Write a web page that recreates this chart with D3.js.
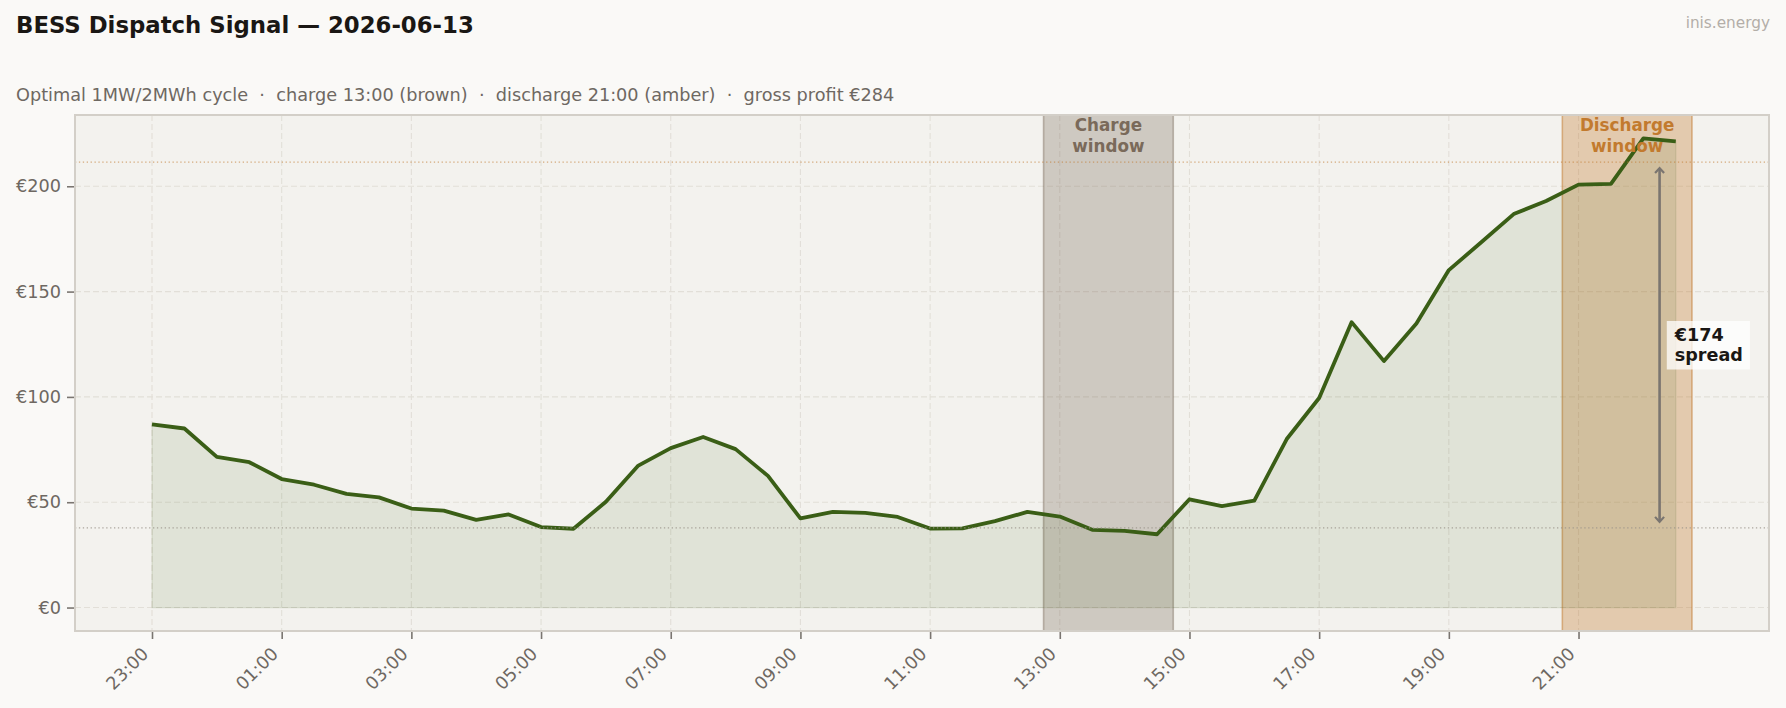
<!DOCTYPE html>
<html>
<head>
<meta charset="utf-8">
<script src="https://cdn.jsdelivr.net/npm/d3@7"></script>
<style>
  body { margin: 0; background: #faf9f7; }
  svg { display: block; font-family: "DejaVu Sans", sans-serif; }
</style>
</head>
<body>
<svg id="chart" width="1786" height="708"></svg>
<script>
// half-hourly day-ahead prices, €/MWh
const slots = ["23:00","23:30","00:00","00:30","01:00","01:30","02:00","02:30",
  "03:00","03:30","04:00","04:30","05:00","05:30","06:00","06:30",
  "07:00","07:30","08:00","08:30","09:00","09:30","10:00","10:30",
  "11:00","11:30","12:00","12:30","13:00","13:30","14:00","14:30",
  "15:00","15:30","16:00","16:30","17:00","17:30","18:00","18:30",
  "19:00","19:30","20:00","20:30","21:00","21:30","22:00","22:30"];
const prices = [87, 85, 71.5, 69, 61, 58.3, 54, 52.3,
  47, 46, 41.6, 44.2, 38.2, 37.4, 50.2, 67.4,
  75.7, 81, 75.2, 62.5, 42.3, 45.4, 44.9, 43,
  37.5, 37.6, 41, 45.4, 43.2, 36.9, 36.4, 34.8,
  51.4, 48.2, 50.8, 80, 99.5, 135.5, 117, 134.8,
  160.2, 173.4, 186.8, 193, 200.8, 201.1, 222.7, 221.3];

const chargeWindow = ["12:45", "14:45"];
const dischargeWindow = ["20:45", "22:45"];
const chargeSlots = ["13:00", "13:30", "14:00", "14:30"];
const dischargeSlots = ["21:00", "21:30", "22:00", "22:30"];

const xTickLabels = ["23:00","01:00","03:00","05:00","07:00","09:00",
  "11:00","13:00","15:00","17:00","19:00","21:00"];
const yTicks = [0, 50, 100, 150, 200];

const title = "BESS Dispatch Signal \u2014 2026-06-13";
const subtitle = "Optimal 1MW/2MWh cycle  \u00b7  charge 13:00 (brown)  \u00b7  discharge 21:00 (amber)  \u00b7  gross profit \u20ac284";
const watermark = "inis.energy";

// colours
const LINE = "#3a5e16";
const CHARGE = "#7a6a5a";
const AMBER = "#c27a2e";
const INK = "#6e6862";

// hours since 23:00 of the previous day
function hrs(t) {
  const [h, m] = t.split(":").map(Number);
  return ((h - 23 + 24) % 24) + m / 60;
}

const data = slots.map((s, i) => ({ t: hrs(s), v: prices[i] }));
const priceAt = s => prices[slots.indexOf(s)];
const chargeAvg = d3.mean(chargeSlots, priceAt);
const dischargeAvg = d3.mean(dischargeSlots, priceAt);
const spread = dischargeAvg - chargeAvg;

const box = { left: 75, right: 1769, top: 115, bottom: 631 };

const xLo = 0, xHi = Math.max(d3.max(data, d => d.t), hrs(dischargeWindow[1]));
const xPad = (xHi - xLo) * 0.05;
const x = d3.scaleLinear().domain([xLo - xPad, xHi + xPad]).range([box.left, box.right]);

const yHi = d3.max(prices), yPad = yHi * 0.05;
const y = d3.scaleLinear().domain([-yPad, yHi + yPad]).range([box.bottom, box.top]);

const svg = d3.select("#chart");
svg.append("rect").attr("width", 1786).attr("height", 708).attr("fill", "#faf9f7");

// titles
svg.append("text").attr("x", 16).attr("y", 33)
  .attr("font-size", 22.8).attr("font-weight", "bold").attr("fill", "#1a1714")
  .text(title);
svg.append("text").attr("x", 16).attr("y", 101)
  .attr("font-size", 17.7).attr("fill", INK).style("white-space", "pre")
  .text(subtitle);
svg.append("text").attr("x", 1770).attr("y", 27.5)
  .attr("text-anchor", "end").attr("font-size", 15.3).attr("fill", "#b3aea8")
  .text(watermark);

// axes background
svg.append("rect")
  .attr("x", box.left).attr("y", box.top)
  .attr("width", box.right - box.left).attr("height", box.bottom - box.top)
  .attr("fill", "#f3f2ee");

const plot = svg.append("g");

// grid
const xTickVals = xTickLabels.map(hrs);
plot.append("g").selectAll("line").data(xTickVals).join("line")
  .attr("x1", d => x(d)).attr("x2", d => x(d))
  .attr("y1", box.top).attr("y2", box.bottom)
  .attr("stroke", "#e2dfd8").attr("stroke-width", 1.1).attr("stroke-dasharray", "6,3");
plot.append("g").selectAll("line").data(yTicks).join("line")
  .attr("x1", box.left).attr("x2", box.right)
  .attr("y1", d => y(d)).attr("y2", d => y(d))
  .attr("stroke", "#e2dfd8").attr("stroke-width", 1.1).attr("stroke-dasharray", "6,3");

// charge / discharge windows
function span(win, color, fillOp, edgeOp) {
  plot.append("rect")
    .attr("x", x(hrs(win[0]))).attr("y", box.top)
    .attr("width", x(hrs(win[1])) - x(hrs(win[0])))
    .attr("height", box.bottom - box.top)
    .attr("fill", color).attr("fill-opacity", fillOp)
    .attr("stroke", color).attr("stroke-opacity", edgeOp).attr("stroke-width", 1.6);
}
span(chargeWindow, CHARGE, 0.3, 0.45);
span(dischargeWindow, AMBER, 0.33, 0.5);

// price area + line
const area = d3.area().x(d => x(d.t)).y0(y(0)).y1(d => y(d.v));
plot.append("path").datum(data).attr("d", area)
  .attr("fill", LINE).attr("fill-opacity", 0.1)
  .attr("stroke", LINE).attr("stroke-opacity", 0.12).attr("stroke-width", 1.2);

const line = d3.line().x(d => x(d.t)).y(d => y(d.v));
plot.append("path").datum(data).attr("d", line)
  .attr("fill", "none").attr("stroke", LINE).attr("stroke-width", 3.8)
  .attr("stroke-linejoin", "round");

// average price reference lines
plot.append("line")
  .attr("x1", box.left).attr("x2", box.right)
  .attr("y1", y(dischargeAvg)).attr("y2", y(dischargeAvg))
  .attr("stroke", AMBER).attr("stroke-opacity", 0.6).attr("stroke-width", 1.3)
  .attr("stroke-dasharray", "1.3,2.6");
plot.append("line")
  .attr("x1", box.left).attr("x2", box.right)
  .attr("y1", y(chargeAvg)).attr("y2", y(chargeAvg))
  .attr("stroke", "#9a928a").attr("stroke-opacity", 0.8).attr("stroke-width", 1.3)
  .attr("stroke-dasharray", "1.3,2.6");

// window labels
function windowLabel(win, word, color) {
  const cx = (x(hrs(win[0])) + x(hrs(win[1]))) / 2;
  const t = plot.append("text").attr("text-anchor", "middle")
    .attr("font-size", 16.8).attr("font-weight", "bold").attr("fill", color);
  t.append("tspan").attr("x", cx).attr("y", box.top + 16).text(word);
  t.append("tspan").attr("x", cx).attr("y", box.top + 36.5).text("window");
}
windowLabel(chargeWindow, "Charge", CHARGE);
windowLabel(dischargeWindow, "Discharge", AMBER);

// spread arrow
const defs = svg.append("defs");
defs.append("marker").attr("id", "head").attr("viewBox", "-6 -6 12 12")
  .attr("refX", 0).attr("refY", 0).attr("markerWidth", 12).attr("markerHeight", 12)
  .attr("markerUnits", "userSpaceOnUse").attr("orient", "auto-start-reverse")
  .append("path").attr("d", "M-5,-4.5 L0,0 L-5,4.5")
  .attr("fill", "none").attr("stroke", "#7a7570").attr("stroke-width", 2.2);

const ax = x(hrs("22:15"));
plot.append("line")
  .attr("x1", ax).attr("x2", ax)
  .attr("y1", y(dischargeAvg) + 6).attr("y2", y(chargeAvg) - 6)
  .attr("stroke", "#7a7570").attr("stroke-width", 2.6)
  .attr("marker-start", "url(#head)").attr("marker-end", "url(#head)");

const midY = y((dischargeAvg + chargeAvg) / 2);
const lbl = plot.append("g");
const bg = lbl.append("rect").attr("fill", "#ffffff").attr("fill-opacity", 0.75);
const st = lbl.append("text").attr("font-size", 17.6).attr("font-weight", "bold").attr("fill", "#1a1714");
const tx = x(hrs("22:30")) - 1;
st.append("tspan").attr("x", tx).attr("y", midY - 4).text("\u20ac" + Math.round(spread));
st.append("tspan").attr("x", tx).attr("y", midY + 16.5).text("spread");
const bb = st.node().getBBox();
bg.attr("x", bb.x - 7).attr("y", bb.y - 4).attr("width", bb.width + 14).attr("height", bb.height + 8);

// frame
svg.append("rect")
  .attr("x", box.left).attr("y", box.top)
  .attr("width", box.right - box.left).attr("height", box.bottom - box.top)
  .attr("fill", "none").attr("stroke", "#d3cfc8").attr("stroke-width", 2);

// y axis
const yAxis = svg.append("g").attr("transform", `translate(${box.left - 1},0)`)
  .call(d3.axisLeft(y).tickValues(yTicks).tickSize(7).tickPadding(6)
    .tickFormat(d => "\u20ac" + d));
yAxis.select(".domain").remove();
yAxis.selectAll(".tick line").attr("stroke", "#7a7570").attr("stroke-width", 1.6);
yAxis.selectAll(".tick text").attr("font-family", "DejaVu Sans")
  .attr("font-size", 17.7).attr("fill", INK);

// x axis
const xAxis = svg.append("g").attr("transform", `translate(0,${box.bottom + 1})`)
  .call(d3.axisBottom(x).tickValues(xTickVals).tickSize(7)
    .tickFormat((d, i) => xTickLabels[i]));
xAxis.select(".domain").remove();
xAxis.selectAll(".tick line").attr("stroke", "#7a7570").attr("stroke-width", 1.6);
xAxis.selectAll(".tick text")
  .attr("font-family", "DejaVu Sans").attr("font-size", 17.7).attr("fill", INK)
  .attr("text-anchor", "end").attr("dy", null).attr("y", null)
  .attr("transform", "translate(-3,23) rotate(-45)");
</script>
</body>
</html>
